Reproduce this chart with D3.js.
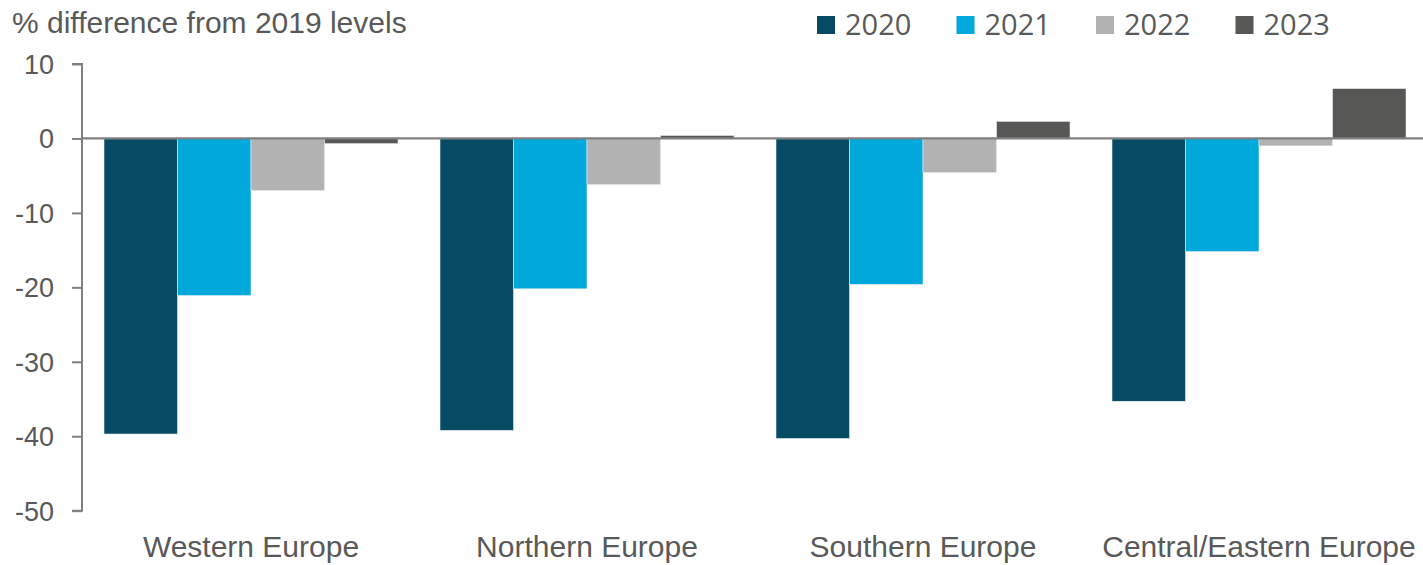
<!DOCTYPE html>
<html>
<head>
<meta charset="utf-8">
<script src="https://cdn.jsdelivr.net/npm/d3@7"></script>
<style>
  html, body { margin: 0; padding: 0; background: #fff; }
  svg { display: block; }
</style>
</head>
<body>
<svg id="chart" width="1423" height="565"></svg>
<script>
const categories = ["Western Europe", "Northern Europe", "Southern Europe", "Central/Eastern Europe"];
const seriesNames = ["2020", "2021", "2022", "2023"];
const values2020 = [-39.7, -39.2, -40.3, -35.3];
const values2021 = [-21.1, -20.2, -19.6, -15.2];
const values2022 = [-7.0, -6.2, -4.6, -1.0];
const values2023 = [-0.7, 0.4, 2.3, 6.7];
const yTicks = [10, 0, -10, -20, -30, -40, -50];
const subtitle = "% difference from 2019 levels";
const colors = ["#074A63", "#00A8DB", "#B2B2B2", "#575756"];

const seriesValues = [values2020, values2021, values2022, values2023];
const data = categories.map((c, i) => ({
  cat: c,
  vals: seriesNames.map((s, j) => ({ key: s, value: seriesValues[j][i], color: colors[j] }))
}));

const svg = d3.select("#chart");
const x0 = d3.scaleBand().domain(categories).range([83, 1427]).paddingInner(0.125).paddingOuter(0.0625);
const x1 = d3.scaleBand().domain(seriesNames).range([0, x0.bandwidth()]);
const y = d3.scaleLinear().domain([-50, 10]).range([510.7, 64]);

const textColor = "#595959";
const axisColor = "#808080";

// bars
const g = svg.append("g");
const groups = g.selectAll("g.grp").data(data).join("g")
  .attr("transform", d => `translate(${x0(d.cat)},0)`);
groups.selectAll("rect").data(d => d.vals).join("rect")
  .attr("x", d => x1(d.key))
  .attr("width", x1.bandwidth())
  .attr("y", d => y(Math.max(0, d.value)))
  .attr("height", d => Math.abs(y(d.value) - y(0)))
  .attr("fill", d => d.color)
  .attr("stroke", "#e8eef0")
  .attr("stroke-width", 0.6);

// y axis
const yAxis = d3.axisLeft(y).tickValues(yTicks).tickSize(10).tickPadding(18).tickFormat(d => String(d));
const ya = svg.append("g").attr("transform", "translate(82,0)").call(yAxis);
ya.select(".domain").attr("stroke", axisColor).attr("stroke-width", 2).attr("d", `M-10,${y(10)}H0V${y(-50)}H-10`);
ya.selectAll(".tick line").attr("stroke", axisColor).attr("stroke-width", 2);
ya.selectAll(".tick text").attr("fill", textColor)
  .style("font-family", "'Liberation Sans', Arial, sans-serif").style("font-size", "27px")
  .attr("dy", "0.35em");

// zero line
svg.append("line").attr("x1", 82).attr("x2", 1423).attr("y1", y(0)).attr("y2", y(0))
  .attr("stroke", axisColor).attr("stroke-width", 2.2);

// category labels
svg.append("g").selectAll("text").data(categories).join("text")
  .attr("x", d => x0(d) + x0.bandwidth() / 2)
  .attr("y", 557)
  .attr("text-anchor", "middle")
  .attr("fill", textColor)
  .style("font-family", "'Liberation Sans', Arial, sans-serif")
  .style("font-size", "30px")
  .text(d => d);

// subtitle
svg.append("text").attr("x", 12).attr("y", 33).attr("fill", textColor)
  .style("font-family", "'Liberation Sans', Arial, sans-serif").style("font-size", "30px")
  .text(subtitle);

// legend
const legend = svg.append("g").selectAll("g").data(seriesNames).join("g")
  .attr("transform", (d, i) => `translate(${817 + i * 139.5},0)`);
legend.append("rect").attr("x", 0).attr("y", 16).attr("width", 18).attr("height", 18)
  .attr("fill", (d, i) => colors[i]);
legend.append("text").attr("x", 28).attr("y", 35).attr("fill", textColor)
  .style("font-family", "'Open Sans', 'Noto Sans', sans-serif").style("font-size", "29px")
  .text(d => d);
</script>
</body>
</html>
